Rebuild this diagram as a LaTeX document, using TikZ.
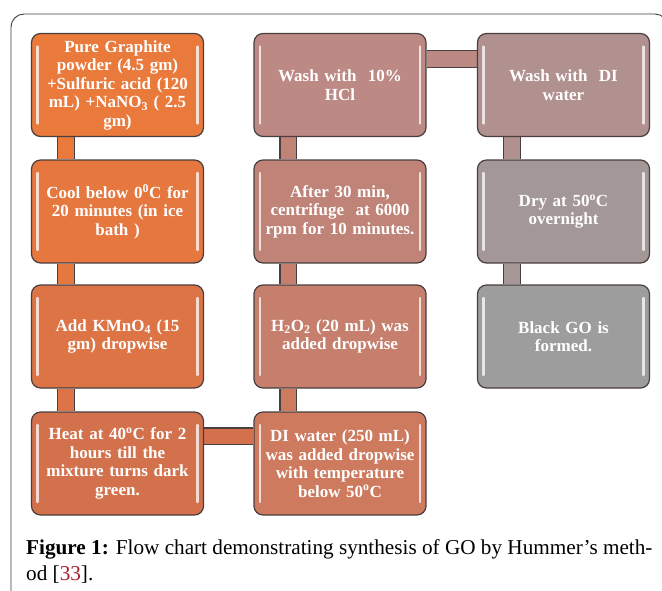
\documentclass[tikz,border=0pt]{standalone}
\usepackage{fontspec}
\setmainfont{Liberation Serif}
\usetikzlibrary{backgrounds}
\definecolor{edge}{HTML}{4A3E3E}
\definecolor{framegray}{HTML}{3C3C3C}
\definecolor{refred}{HTML}{A3202C}
\definecolor{orA}{HTML}{E97A3C}
\definecolor{orB}{HTML}{E5773F}
\definecolor{orC}{HTML}{DC7446}
\definecolor{orD}{HTML}{D4714D}
\definecolor{rsD}{HTML}{CD7A5F}
\definecolor{rsC}{HTML}{C67E6D}
\definecolor{rsB}{HTML}{BF8378}
\definecolor{rsA}{HTML}{BC8984}
\definecolor{gyA}{HTML}{B19090}
\definecolor{gyB}{HTML}{A49797}
\definecolor{gyC}{HTML}{9D9D9D}
\tikzset{
  flowbox/.style={draw=edge, line width=1.2pt, fill=#1, rounded corners=9pt,
    minimum width=169pt, minimum height=103pt, inner sep=0pt, text width=172pt,
    align=center, text=white, font=\fontsize{17}{18.5}\selectfont\bfseries,
    path picture={
      \draw[white, opacity=0.75, line width=2.4pt, line cap=round]
        ([xshift=6pt,yshift=-13pt]path picture bounding box.north west) --
        ([xshift=6pt,yshift=13pt]path picture bounding box.south west)
        ([xshift=-6pt,yshift=-13pt]path picture bounding box.north east) --
        ([xshift=-6pt,yshift=13pt]path picture bounding box.south east);}},
  pipe/.style={draw=edge, double=#1, double distance=15.5pt, line width=1.2pt}
}
\begin{document}
\begin{tikzpicture}[x=1pt, y=-1pt]
\useasboundingbox (0,0) rectangle (662,590);
\def\ca{117.5} \def\cb{340} \def\cc{563.5}
\begin{scope}
  \clip (0,0) rectangle (662,590);
  \draw[framegray, line width=0.9pt, rounded corners=13pt] (11,14) rectangle (668,620);
\end{scope}
\node[flowbox=orA] (graphite) at (\ca,85) {Pure Graphite\\ powder (4.5 gm)\\ +Sulfuric acid (120\\ mL) +NaNO\textsubscript{3} ( 2.5\\ gm)};
\node[flowbox=orB] (cool) at (\ca,211.5) {Cool below 0\textsuperscript{0}C for\\ 20 minutes (in ice\\ bath )};
\node[flowbox=orC] (kmno) at (\ca,336.5) {Add KMnO\textsubscript{4} (15\\ gm) dropwise};
\node[flowbox=orD] (heat) at (\ca,463.5) {Heat at 40\textsuperscript{o}C for 2\\ hours till the\\ mixture turns dark\\ green.};
\node[flowbox=rsD] (diwater) at (\cb,463.5) {DI water (250 mL)\\ was added dropwise\\ with temperature\\ below 50\textsuperscript{o}C};
\node[flowbox=rsC] (peroxide) at (\cb,336.5) {H\textsubscript{2}O\textsubscript{2} (20 mL) was\\ added dropwise};
\node[flowbox=rsB] (centrifuge) at (\cb,211.5) {After 30 min,\\ centrifuge\ \ at 6000\\ rpm for 10 minutes.};
\node[flowbox=rsA] (washhcl) at (\cb,85) {Wash with\ \ 10\%\\ HCl};
\node[flowbox=gyA] (washdi) at (\cc,85) {Wash with\ \ DI\\ water};
\node[flowbox=gyB] (dry) at (\cc,211.5) {Dry at 50\textsuperscript{o}C\\ overnight};
\node[flowbox=gyC] (blackgo) at (\cc,336.5) {Black GO is\\ formed.};
\begin{scope}[on background layer]
  \draw[pipe=orA] ([xshift=35pt]graphite.south west) -- ([xshift=35pt]cool.north west);
  \draw[pipe=orB] ([xshift=35pt]cool.south west) -- ([xshift=35pt]kmno.north west);
  \draw[pipe=orC] ([xshift=35pt]kmno.south west) -- ([xshift=35pt]heat.north west);
  \draw[pipe=orD] ([yshift=-25pt]heat.north east) -- ([yshift=-25pt]diwater.north west);
  \draw[pipe=rsD] ([xshift=35pt]peroxide.south west) -- ([xshift=35pt]diwater.north west);
  \draw[pipe=rsC] ([xshift=35pt]centrifuge.south west) -- ([xshift=35pt]peroxide.north west);
  \draw[pipe=rsB] ([xshift=35pt]washhcl.south west) -- ([xshift=35pt]centrifuge.north west);
  \draw[pipe=rsA] ([yshift=-26pt]washhcl.north east) -- ([yshift=-26pt]washdi.north west);
  \draw[pipe=gyA] ([xshift=35pt]washdi.south west) -- ([xshift=35pt]dry.north west);
  \draw[pipe=gyB] ([xshift=35pt]dry.south west) -- ([xshift=35pt]blackgo.north west);
\end{scope}
\node[anchor=base west, inner sep=0pt, font=\fontsize{21.2}{26}\selectfont] (caption) at (26,554)
  {\textbf{Figure 1:} Flow chart demonstrating synthesis of GO by Hummer's meth-};
\node[anchor=base west, inner sep=0pt, font=\fontsize{21.2}{26}\selectfont] (captiontail) at (26,580)
  {od [\textcolor{refred}{33}].};
\end{tikzpicture}
\end{document}
